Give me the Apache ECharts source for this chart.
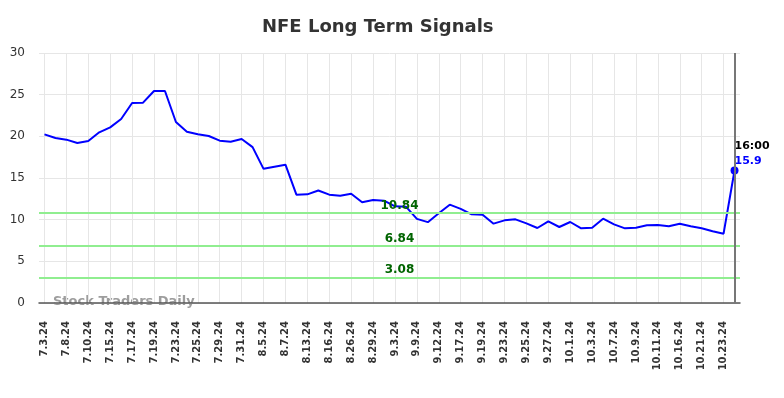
<!DOCTYPE html>
<html>
<head>
<meta charset="utf-8">
<script src="https://cdn.jsdelivr.net/npm/echarts@6/dist/echarts.min.js"></script>
<style>html,body{margin:0;padding:0;background:#fff}#c{width:784px;height:398px}</style>
</head>
<body>
<div id="c"></div>
<script>
const titleText = 'NFE Long Term Signals';
const categories = ['7.3.24','7.5.24','7.8.24','7.9.24','7.10.24','7.12.24','7.15.24','7.16.24','7.17.24','7.18.24',
'7.19.24','7.22.24','7.23.24','7.24.24','7.25.24','7.26.24','7.29.24','7.30.24','7.31.24','8.2.24',
'8.5.24','8.6.24','8.7.24','8.9.24','8.13.24','8.14.24','8.16.24','8.20.24','8.26.24','8.27.24',
'8.29.24','8.30.24','9.3.24','9.5.24','9.9.24','9.10.24','9.12.24','9.13.24','9.17.24','9.18.24',
'9.19.24','9.20.24','9.23.24','9.24.24','9.25.24','9.26.24','9.27.24','9.30.24','10.1.24','10.2.24',
'10.3.24','10.4.24','10.7.24','10.8.24','10.9.24','10.10.24','10.11.24','10.14.24','10.16.24','10.18.24',
'10.21.24','10.22.24','10.23.24','10.24.24'];
const prices = [20.24,19.8,19.6,19.2,19.44,20.48,21.08,22.08,24.0,24.04,
25.44,25.44,21.72,20.56,20.24,20.04,19.48,19.36,19.68,18.7,
16.1,16.35,16.6,13.0,13.04,13.5,13.0,12.88,13.12,12.1,
12.36,12.28,11.6,11.56,10.1,9.7,10.76,11.8,11.3,10.64,
10.6,9.52,9.92,10.04,9.56,9.0,9.8,9.12,9.72,8.96,
9.04,10.12,9.44,8.96,9.04,9.32,9.36,9.2,9.52,9.2,
8.96,8.6,8.32,15.9];
const signalLevels = [10.84, 6.84, 3.08];
const lastTimeLabel = '16:00';
const watermark = 'Stock Traders Daily';
const yTicks = {min: 0, max: 30, interval: 5};

const lastIdx = prices.length - 1;
const chart = echarts.init(document.getElementById('c'), null, {renderer: 'canvas'});
const FONT = 'DejaVu Sans';
chart.setOption({
  animation: false,
  backgroundColor: '#fff',
  title: {
    text: titleText, left: 257, top: 13,
    textStyle: {fontFamily: FONT, fontSize: 18, fontWeight: 'bold', color: '#333'}
  },
  grid: {left: 39, right: 44, top: 53, bottom: 95, containLabel: false},
  xAxis: {
    type: 'category', data: categories, boundaryGap: true,
    axisLine: {lineStyle: {color: '#555', width: 1.5}},
    axisTick: {show: false},
    axisLabel: {interval: 1, rotate: 90, margin: 18, fontFamily: FONT, fontSize: 10, fontWeight: 'bold', color: '#333'},
    splitLine: {show: true, interval: 1, alignWithLabel: true, lineStyle: {color: '#e6e6e6', width: 1}}
  },
  yAxis: {
    type: 'value', min: yTicks.min, max: yTicks.max, interval: yTicks.interval,
    axisLine: {show: false}, axisTick: {show: false},
    axisLabel: {margin: 14, fontFamily: FONT, fontSize: 12, color: '#333'},
    splitLine: {lineStyle: {color: '#e6e6e6', width: 1}}
  },
  graphic: [{
    type: 'text', left: 53, top: 295, z: 0,
    style: {text: watermark, font: 'bold 13px "DejaVu Sans"', fill: 'rgba(140,140,140,0.85)'}
  }],
  series: [{
    type: 'line', data: prices, showSymbol: true, showAllSymbol: true,
    symbol: (v, p) => p.dataIndex === lastIdx ? 'circle' : 'none',
    symbolSize: 8,
    lineStyle: {color: '#0000ff', width: 2},
    itemStyle: {color: '#0000ff'},
    label: {
      show: true, position: [4, 2], align: 'left', verticalAlign: 'bottom',
      formatter: (p) => p.dataIndex === lastIdx ? '{t|' + lastTimeLabel + '}\n{v|' + p.value + '}' : '',
      rich: {
        t: {fontFamily: FONT, fontSize: 11, fontWeight: 'bold', color: '#000', lineHeight: 15},
        v: {fontFamily: FONT, fontSize: 11, fontWeight: 'bold', color: '#0000ff', lineHeight: 15}
      }
    },
    markLine: {
      silent: true, symbol: 'none', animation: false,
      data: signalLevels.map(v => ({
        yAxis: v,
        lineStyle: {color: '#90ee90', width: 2, type: 'solid'},
        label: {show: true, position: 'middle', formatter: String(v), offset: [10, 4],
          fontFamily: FONT, fontSize: 12, fontWeight: 'bold', color: '#006400'}
      })).concat([{
        xAxis: lastIdx,
        lineStyle: {color: '#777', width: 2, type: 'solid'},
        label: {show: false}
      }])
    }
  }]
});
</script>
</body>
</html>
